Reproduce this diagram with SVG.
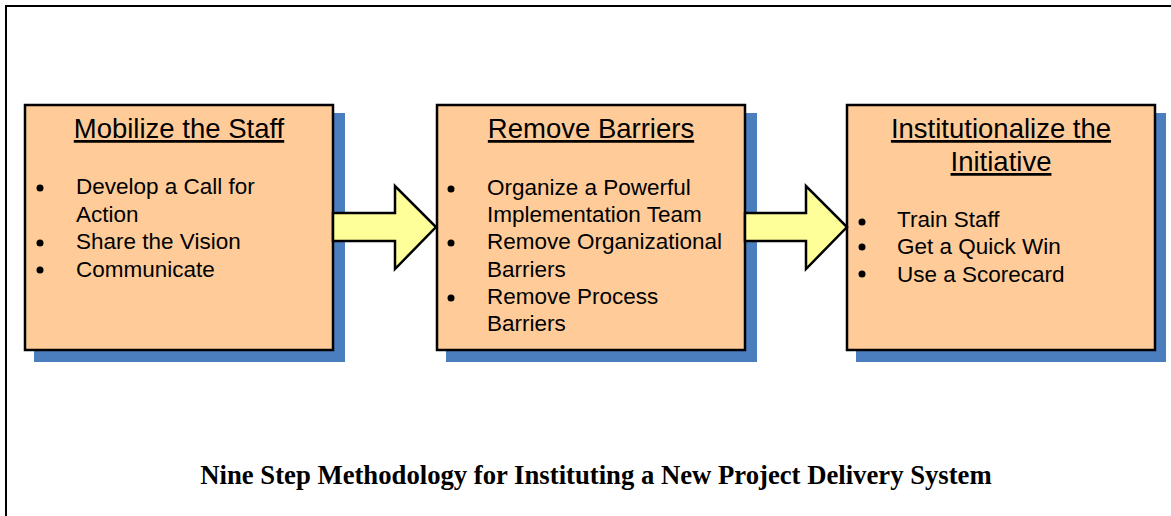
<svg xmlns="http://www.w3.org/2000/svg" width="1171" height="516" viewBox="0 0 1171 516">
<style>
.frame{fill:none;stroke:#000;stroke-width:2}
.shadow{fill:#4A7EBF}
.box{fill:#FFCC99;stroke:#000;stroke-width:2.5}
.title{font-family:"Liberation Sans",Arial,sans-serif;font-size:27.5px;fill:#000;text-anchor:middle;text-decoration:underline}
.item{font-family:"Liberation Sans",Arial,sans-serif;font-size:22.5px;fill:#000}
.dot{fill:#000}
.arrow{fill:#FFFF99;stroke:#000;stroke-width:2.5;stroke-linejoin:miter}
.caption{font-family:"Liberation Serif","Times New Roman",serif;font-size:26.7px;font-weight:bold;fill:#000;text-anchor:middle}
</style>
<rect class="frame" x="6" y="6" width="1200" height="600"/>
<g id="node-mobilize">
<rect class="shadow" x="34" y="113" width="311" height="249"/>
<rect class="box" x="25" y="105" width="308" height="245"/>
<text class="title" x="179" y="138">Mobilize the Staff</text>
<circle class="dot" cx="40" cy="188" r="3.5"/>
<circle class="dot" cx="40" cy="243" r="3.5"/>
<circle class="dot" cx="40" cy="270" r="3.5"/>
<text class="item" x="76" y="194">Develop a Call for</text>
<text class="item" x="76" y="222">Action</text>
<text class="item" x="76" y="249">Share the Vision</text>
<text class="item" x="76" y="277">Communicate</text>
</g>
<g id="node-remove">
<rect class="shadow" x="446" y="113" width="311" height="249"/>
<rect class="box" x="437" y="105" width="308" height="245"/>
<text class="title" x="591" y="138">Remove Barriers</text>
<circle class="dot" cx="451" cy="189" r="3.5"/>
<circle class="dot" cx="451" cy="243" r="3.5"/>
<circle class="dot" cx="451" cy="298" r="3.5"/>
<text class="item" x="487" y="195">Organize a Powerful</text>
<text class="item" x="487" y="222">Implementation Team</text>
<text class="item" x="487" y="249">Remove Organizational</text>
<text class="item" x="487" y="277">Barriers</text>
<text class="item" x="487" y="304">Remove Process</text>
<text class="item" x="487" y="331">Barriers</text>
</g>
<g id="node-institutionalize">
<rect class="shadow" x="856" y="113" width="310" height="249"/>
<rect class="box" x="847" y="105" width="308" height="245"/>
<text class="title" x="1001" y="138">Institutionalize the</text>
<text class="title" x="1001" y="171">Initiative</text>
<circle class="dot" cx="862" cy="222" r="3.5"/>
<circle class="dot" cx="862" cy="247" r="3.5"/>
<circle class="dot" cx="862" cy="274" r="3.5"/>
<text class="item" x="897" y="227">Train Staff</text>
<text class="item" x="897" y="254">Get a Quick Win</text>
<text class="item" x="897" y="282">Use a Scorecard</text>
</g>
<g id="connectors">
<path class="arrow" d="M333 213 L395 213 L395 186 L436 227 L395 269 L395 241 L333 241 Z"/>
<path class="arrow" d="M745 213 L806 213 L806 186 L847 227 L806 269 L806 241 L745 241 Z"/>
</g>
<text class="caption" x="596" y="484">Nine Step Methodology for Instituting a New Project Delivery System</text>
</svg>
